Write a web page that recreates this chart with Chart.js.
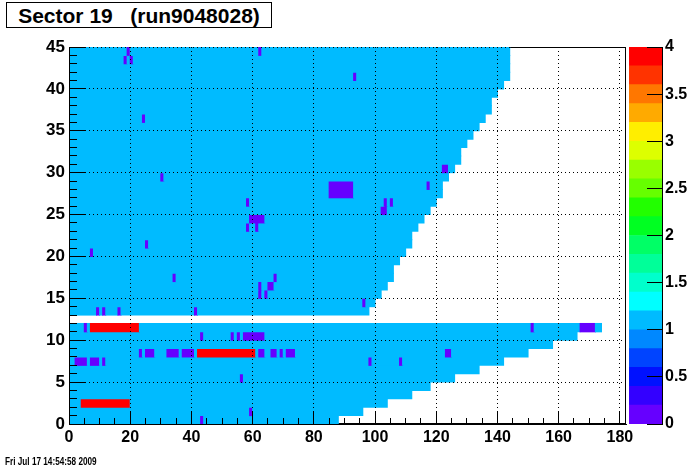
<!DOCTYPE html>
<html>
<head>
<meta charset="utf-8">
<script src="https://cdn.jsdelivr.net/npm/chart.js@4.4.0/dist/chart.umd.min.js"></script>
<style>
  html, body { margin: 0; padding: 0; background: #fff; }
  #wrap { position: relative; width: 696px; height: 472px; overflow: hidden; font-family: "Liberation Sans", Arial, sans-serif; }
  #main { position: absolute; left: 0; top: 0; }
  #zbar { position: absolute; left: 629px; top: 0; }
  #title { position: absolute; left: 6px; top: 2px; width: 264px; height: 24px; border: 1px solid #000; background: #fff;
           font-weight: bold; font-size: 21px; line-height: 25px; text-align: center; white-space: pre; }
  #stamp { position: absolute; left: 5px; top: 456px; font-weight: bold; font-size: 10px; white-space: pre;
           transform: scaleX(0.82); transform-origin: left top; }
</style>
</head>
<body>
<div id="wrap">
  <canvas id="main" width="696" height="472"></canvas>
  <canvas id="zbar" width="67" height="472"></canvas>
  <div id="title">Sector 19   (run9048028)</div>
  <div id="stamp">Fri Jul 17 14:54:58 2009</div>
</div>
<script>
// row r spans y in [r, r+1]; bins 0 .. rowEnd[r]-1 are filled with baseValue
const rowEnd = [88, 96, 104, 112, 118, 126, 134, 142, 150, 158, 166, 174, 0,
  98, 100, 102, 104, 106, 106, 108, 110, 112, 112, 114, 116, 118, 120, 122, 122,
  124, 126, 128, 128, 130, 132, 134, 136, 138, 138, 140, 142, 144, 144, 144, 144];
const baseValue = 1;
const lowValue = 0.1;
const highValue = 4;

// [row, first bin, last bin]
const lowCells = [
  [44, 19, 19], [44, 62, 62], [43, 18, 18], [43, 20, 20], [41, 93, 93], [36, 24, 24],
  [30, 122, 123], [29, 30, 30], [28, 85, 92], [28, 117, 117], [27, 85, 92],
  [26, 58, 58], [26, 103, 103], [26, 105, 105], [25, 102, 103], [24, 59, 63],
  [23, 58, 58], [23, 61, 61], [21, 25, 25], [20, 7, 7], [17, 34, 34], [17, 67, 67],
  [16, 62, 62], [16, 65, 66], [15, 62, 62], [15, 64, 64], [14, 96, 96],
  [13, 9, 9], [13, 11, 11], [13, 16, 16], [13, 41, 41],
  [11, 5, 5], [11, 151, 151], [11, 167, 171],
  [10, 43, 43], [10, 53, 53], [10, 55, 55], [10, 57, 63],
  [8, 23, 23], [8, 25, 27], [8, 32, 35], [8, 37, 40], [8, 62, 63], [8, 66, 67],
  [8, 69, 69], [8, 71, 73], [8, 123, 124],
  [7, 2, 5], [7, 7, 9], [7, 11, 11], [7, 98, 98], [7, 108, 108],
  [5, 56, 56], [1, 59, 59], [0, 43, 43]
];
const highCells = [[11, 7, 22], [8, 42, 60], [2, 4, 19]];

const xTicks = [0, 20, 40, 60, 80, 100, 120, 140, 160, 180];
const yTicks = [0, 5, 10, 15, 20, 25, 30, 35, 40, 45];
const zLevels = [0, 0.2, 0.4, 0.6, 0.8, 1, 1.2, 1.4, 1.6, 1.8, 2, 2.2, 2.4, 2.6, 2.8, 3, 3.2, 3.4, 3.6, 3.8, 4];
const zTicks = [0, 0.5, 1, 1.5, 2, 2.5, 3, 3.5, 4];
const palette = ['#6600ff', '#3300ff', '#0011ff', '#0044ff', '#0088ff', '#00bbff', '#00ffff', '#00ffcc',
  '#00ff99', '#00ff66', '#00ff22', '#22ff00', '#66ff00', '#99ff00', '#ddff00', '#ffee00',
  '#ffaa00', '#ff7700', '#ff3300', '#ff0000'];

const fontFamily = '"Liberation Sans", Arial, sans-serif';

// build the cell grid
const grid = rowEnd.map(n => Array.from({ length: n }, () => baseValue));
lowCells.forEach(([r, a, b]) => { for (let i = a; i <= b; i++) grid[r][i] = lowValue; });
highCells.forEach(([r, a, b]) => { for (let i = a; i <= b; i++) grid[r][i] = highValue; });

function colorFor(v) {
  let k = zLevels.findIndex((z, i) => v >= z && v < zLevels[i + 1]);
  if (k < 0) k = palette.length - 1;
  return palette[k];
}

// merge equal-colour neighbours in a row into one floating bar
const bars = [];
const barColors = [];
grid.forEach((row, r) => {
  let start = 0;
  for (let i = 1; i <= row.length; i++) {
    if (i === row.length || colorFor(row[i]) !== colorFor(row[start])) {
      bars.push({ x: [start, i], y: r + 0.5 });
      barColors.push(colorFor(row[start]));
      start = i;
    }
  }
});

function align(px) { return Math.round(px - 0.5) + 0.5; }

const rootFrame = {
  id: 'rootFrame',
  beforeDatasetsDraw(chart) {
    const { ctx, chartArea: a } = chart;
    ctx.save();
    ctx.strokeStyle = '#000';
    ctx.lineWidth = 1;
    ctx.strokeRect(a.left + 0.5, a.top + 0.5, a.right - a.left - 1, a.bottom - a.top - 1);
    ctx.restore();
  },
  afterDatasetsDraw(chart) {
    // dotted grid on top of the cells
    const { ctx, chartArea: a, scales } = chart;
    ctx.save();
    ctx.strokeStyle = '#000';
    ctx.lineWidth = 1;
    ctx.setLineDash([1, 3]);
    ctx.beginPath();
    xTicks.slice(1).forEach(v => {
      const px = align(scales.x.getPixelForValue(v));
      ctx.moveTo(px, a.bottom);
      ctx.lineTo(px, a.top);
    });
    yTicks.slice(1).forEach(v => {
      const py = align(scales.y.getPixelForValue(v));
      ctx.moveTo(a.left, py);
      ctx.lineTo(a.right, py);
    });
    ctx.stroke();
    ctx.restore();
  },
  afterDraw(chart) {
    const { ctx, chartArea: a, scales } = chart;
    ctx.save();
    ctx.strokeStyle = '#000';
    ctx.lineWidth = 1;
    ctx.beginPath();
    for (let v = 0; v <= 180; v += 5) {
      const px = align(scales.x.getPixelForValue(v));
      ctx.moveTo(px, a.bottom);
      ctx.lineTo(px, a.bottom - (v % 20 === 0 ? 12 : 6));
    }
    for (let v = 0; v <= 45; v += 1) {
      const py = align(scales.y.getPixelForValue(v));
      ctx.moveTo(a.left, py);
      ctx.lineTo(a.left + (v % 5 === 0 ? 17 : 8), py);
    }
    ctx.stroke();
    ctx.restore();
  }
};

new Chart(document.getElementById('main'), {
  type: 'bar',
  data: {
    datasets: [{
      data: bars,
      backgroundColor: barColors,
      borderWidth: 0,
      inflateAmount: 0.5,
      barPercentage: 1,
      categoryPercentage: 1
    }]
  },
  options: {
    indexAxis: 'y',
    responsive: false,
    animation: false,
    devicePixelRatio: 1,
    events: [],
    layout: { padding: { top: 47, right: 70, left: 0, bottom: 0 } },
    plugins: { legend: { display: false }, tooltip: { enabled: false } },
    scales: {
      x: {
        type: 'linear', min: 0, max: 182, position: 'bottom', offset: false,
        afterBuildTicks: s => { s.ticks = xTicks.map(v => ({ value: v })); },
        afterFit: s => { s.height = 48; },
        grid: { display: false, drawTicks: false, offset: false },
        border: { display: true, color: '#000', z: 1 },
        ticks: { color: '#000', padding: 4, maxRotation: 0, autoSkip: false,
                 font: { family: fontFamily, size: 16, weight: 'bold' }, callback: v => String(v) }
      },
      y: {
        type: 'linear', min: 0, max: 45, position: 'left', offset: false,
        afterBuildTicks: s => { s.ticks = yTicks.map(v => ({ value: v })); },
        afterFit: s => { s.width = 69; },
        grid: { display: false, drawTicks: false, offset: false },
        border: { display: true, color: '#000', z: 1 },
        ticks: { color: '#000', padding: 4, autoSkip: false,
                 font: { family: fontFamily, size: 17, weight: 'bold' }, callback: v => String(v) }
      }
    }
  },
  plugins: [rootFrame]
});

const zAxisTicks = {
  id: 'zAxisTicks',
  afterDraw(chart) {
    const { ctx, chartArea: a, scales } = chart;
    ctx.save();
    ctx.strokeStyle = '#000';
    ctx.lineWidth = 1;
    ctx.beginPath();
    zTicks.forEach(v => {
      const py = align(scales.y.getPixelForValue(v));
      ctx.moveTo(a.right, py);
      ctx.lineTo(a.right - 15, py);
    });
    ctx.stroke();
    ctx.restore();
  }
};

new Chart(document.getElementById('zbar'), {
  type: 'bar',
  data: {
    labels: [''],
    datasets: palette.map((c, i) => ({
      data: [[zLevels[i], zLevels[i + 1]]],
      backgroundColor: c,
      borderWidth: 0,
      barPercentage: 1,
      categoryPercentage: 1,
      grouped: false
    }))
  },
  options: {
    responsive: false,
    animation: false,
    devicePixelRatio: 1,
    events: [],
    layout: { padding: { top: 47, bottom: 48, left: 0, right: 0 } },
    plugins: { legend: { display: false }, tooltip: { enabled: false } },
    scales: {
      x: { display: false },
      y: {
        position: 'right', min: 0, max: 4,
        afterBuildTicks: s => { s.ticks = zTicks.map(v => ({ value: v })); },
        afterFit: s => { s.width = 34; },
        grid: { display: false, drawTicks: false },
        border: { display: true, color: '#000' },
        ticks: { color: '#000', padding: 3, autoSkip: false,
                 font: { family: fontFamily, size: 16, weight: 'bold' }, callback: v => String(v) }
      }
    }
  },
  plugins: [zAxisTicks]
});
</script>
</body>
</html>
